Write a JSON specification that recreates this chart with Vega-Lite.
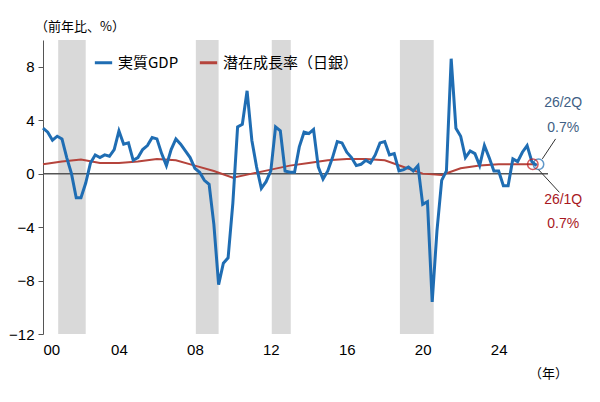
{
  "$schema": "https://vega.github.io/schema/vega-lite/v6.json",
  "width": 505,
  "height": 294,
  "autosize": {"type": "none"},
  "padding": {"left": 43, "top": 40, "right": 52, "bottom": 68},
  "background": "white",
  "config": {
    "font": "Noto Sans CJK JP",
    "view": {"stroke": null},
    "axis": {"labelFont": "Liberation Sans", "labelFontSize": 15, "labelColor": "#000"}
  },
  "datasets": {
    "gdp": [
      {"t":2000.0,"v":3.4},{"t":2000.25,"v":3.1},{"t":2000.5,"v":2.5},{"t":2000.75,"v":2.8},
      {"t":2001.0,"v":2.6},{"t":2001.25,"v":1.2},{"t":2001.5,"v":0.0},{"t":2001.75,"v":-1.8},
      {"t":2002.0,"v":-1.8},{"t":2002.25,"v":-0.7},{"t":2002.5,"v":0.8},{"t":2002.75,"v":1.4},
      {"t":2003.0,"v":1.2},{"t":2003.25,"v":1.4},{"t":2003.5,"v":1.3},{"t":2003.75,"v":1.8},
      {"t":2004.0,"v":3.2},{"t":2004.25,"v":2.2},{"t":2004.5,"v":2.3},{"t":2004.75,"v":1.0},
      {"t":2005.0,"v":1.2},{"t":2005.25,"v":1.8},{"t":2005.5,"v":2.1},{"t":2005.75,"v":2.7},
      {"t":2006.0,"v":2.6},{"t":2006.25,"v":1.5},{"t":2006.5,"v":0.6},{"t":2006.75,"v":1.8},
      {"t":2007.0,"v":2.6},{"t":2007.25,"v":2.2},{"t":2007.5,"v":1.7},{"t":2007.75,"v":1.2},
      {"t":2008.0,"v":0.4},{"t":2008.25,"v":0.1},{"t":2008.5,"v":-0.5},{"t":2008.75,"v":-0.8},
      {"t":2009.0,"v":-3.8},{"t":2009.25,"v":-8.3},{"t":2009.5,"v":-6.7},{"t":2009.75,"v":-6.3},
      {"t":2010.0,"v":-2.2},{"t":2010.25,"v":3.5},{"t":2010.5,"v":3.7},{"t":2010.75,"v":6.2},
      {"t":2011.0,"v":2.5},{"t":2011.25,"v":0.5},{"t":2011.5,"v":-1.1},{"t":2011.75,"v":-0.6},
      {"t":2012.0,"v":0.2},{"t":2012.25,"v":3.5},{"t":2012.5,"v":3.2},{"t":2012.75,"v":0.2},
      {"t":2013.0,"v":0.1},{"t":2013.25,"v":0.1},{"t":2013.5,"v":2.0},{"t":2013.75,"v":3.1},
      {"t":2014.0,"v":3.0},{"t":2014.25,"v":3.3},{"t":2014.5,"v":0.5},{"t":2014.75,"v":-0.4},
      {"t":2015.0,"v":0.2},{"t":2015.25,"v":1.2},{"t":2015.5,"v":2.4},{"t":2015.75,"v":2.3},
      {"t":2016.0,"v":1.6},{"t":2016.25,"v":1.2},{"t":2016.5,"v":0.6},{"t":2016.75,"v":0.7},
      {"t":2017.0,"v":1.0},{"t":2017.25,"v":0.8},{"t":2017.5,"v":1.4},{"t":2017.75,"v":2.3},
      {"t":2018.0,"v":2.4},{"t":2018.25,"v":1.4},{"t":2018.5,"v":1.5},{"t":2018.75,"v":0.2},
      {"t":2019.0,"v":0.3},{"t":2019.25,"v":0.5},{"t":2019.5,"v":0.2},{"t":2019.75,"v":0.6},
      {"t":2020.0,"v":-2.3},{"t":2020.25,"v":-2.1},{"t":2020.5,"v":-9.6},{"t":2020.75,"v":-4.3},
      {"t":2021.0,"v":-0.5},{"t":2021.25,"v":0.2},{"t":2021.5,"v":8.6},{"t":2021.75,"v":3.4},
      {"t":2022.0,"v":2.8},{"t":2022.25,"v":1.2},{"t":2022.5,"v":1.7},{"t":2022.75,"v":1.5},
      {"t":2023.0,"v":0.6},{"t":2023.25,"v":2.1},{"t":2023.5,"v":1.2},{"t":2023.75,"v":0.2},
      {"t":2024.0,"v":0.2},{"t":2024.25,"v":-0.9},{"t":2024.5,"v":-0.9},{"t":2024.75,"v":1.1},
      {"t":2025.0,"v":0.9},{"t":2025.25,"v":1.6},{"t":2025.5,"v":2.1},{"t":2025.75,"v":0.9},
      {"t":2026.0,"v":0.6}
    ],
    "pot": [
      {"t":2000.0,"v":0.7},{"t":2001.0,"v":0.9},{"t":2002.0,"v":1.05},{"t":2003.0,"v":0.8},
      {"t":2004.0,"v":0.8},{"t":2005.0,"v":0.9},{"t":2006.0,"v":1.1},{"t":2007.0,"v":1.0},
      {"t":2008.0,"v":0.6},{"t":2009.0,"v":0.2},{"t":2010.0,"v":-0.3},{"t":2011.0,"v":0.0},
      {"t":2012.0,"v":0.3},{"t":2013.0,"v":0.6},{"t":2014.0,"v":0.8},{"t":2015.0,"v":1.0},
      {"t":2016.0,"v":1.1},{"t":2017.0,"v":1.1},{"t":2018.0,"v":1.0},{"t":2019.0,"v":0.5},
      {"t":2020.0,"v":0.0},{"t":2021.0,"v":-0.1},{"t":2022.0,"v":0.4},{"t":2023.0,"v":0.6},
      {"t":2024.0,"v":0.7},{"t":2025.0,"v":0.7},{"t":2026.0,"v":0.7}
    ],
    "shade": [
      {"a":2000.8,"b":2002.25},{"a":2008.05,"b":2009.25},{"a":2012.05,"b":2013.05},{"a":2018.8,"b":2020.58}
    ]
  },
  "layer": [
    {
      "data": {"name": "shade"},
      "mark": {"type": "rect", "color": "#d9d9d9"},
      "encoding": {
        "x": {"field": "a", "type": "quantitative", "scale": {"domain": [2000, 2026.6], "nice": false}},
        "x2": {"field": "b"},
        "y": {"datum": 10, "type": "quantitative", "scale": {"domain": [-12, 10], "nice": false}},
        "y2": {"datum": -12}
      }
    },
    {
      "data": {"values": [{}]},
      "mark": {"type": "rule", "color": "#555", "strokeWidth": 1.5},
      "encoding": {"y": {"datum": 0, "type": "quantitative"}}
    },
    {
      "data": {"name": "pot"},
      "transform": [{"calculate": "'潜在成長率（日銀）'", "as": "s"}],
      "mark": {"type": "line", "strokeWidth": 2},
      "encoding": {
        "x": {"field": "t", "type": "quantitative"},
        "y": {"field": "v", "type": "quantitative"},
        "color": {"field": "s", "type": "nominal"}
      }
    },
    {
      "data": {"name": "gdp"},
      "transform": [{"calculate": "'実質GDP'", "as": "s"}],
      "mark": {"type": "line", "strokeWidth": 3},
      "encoding": {
        "x": {
          "field": "t", "type": "quantitative", "title": null,
          "axis": {"values": [2000,2002,2004,2006,2008,2010,2012,2014,2016,2018,2020,2022,2024,2026],
                   "labelExpr": "slice('0' + (datum.value - 2000), -2)", "domain": false, "ticks": false, "grid": false, "labelPadding": 8}
        },
        "y": {
          "field": "v", "type": "quantitative", "title": null,
          "axis": {"values": [-12,-10,-8,-6,-4,-2,0,2,4,6,8,10], "gridColor": "#e0e0e0", "domainColor": "#555", "tickColor": "#555", "labelPadding": 4}
        },
        "color": {
          "field": "s", "type": "nominal",
          "scale": {"domain": ["実質GDP", "潜在成長率（日銀）"], "range": ["#1f6db3", "#b5443c"]},
          "legend": {"title": null, "orient": "none", "legendX": 50, "legendY": 12, "direction": "horizontal",
                     "symbolType": "stroke", "symbolStrokeWidth": 3, "symbolSize": 300, "labelFontSize": 15, "labelFont": "Noto Sans CJK JP", "columnPadding": 14}
        }
      }
    },
    {
      "data": {"values": [{"t": 2026.1, "v": 0.7, "c": "b"}, {"t": 2025.8, "v": 0.7, "c": "r"}]},
      "mark": {"type": "point", "shape": "circle", "size": 110, "strokeWidth": 1.5, "filled": false},
      "encoding": {
        "x": {"field": "t", "type": "quantitative"},
        "y": {"field": "v", "type": "quantitative"},
        "stroke": {"field": "c", "type": "nominal", "scale": {"domain": ["b", "r"], "range": ["#1f6db3", "#c0161c"]}, "legend": null}
      }
    },
    {
      "data": {"values": [{"t": 2026.3, "v": 1.1, "t2": 2027.0, "v2": 2.6}, {"t": 2026.1, "v": 0.3, "t2": 2027.2, "v2": -1.4}]},
      "mark": {"type": "rule", "color": "#333", "strokeWidth": 1, "clip": false},
      "encoding": {
        "x": {"field": "t", "type": "quantitative"}, "x2": {"field": "t2"},
        "y": {"field": "v", "type": "quantitative"}, "y2": {"field": "v2"}
      }
    },
    {
      "data": {"values": [
        {"t": 2027.4, "v": 5.3, "s": "26/2Q", "c": "#3f5f85"},
        {"t": 2027.4, "v": 3.4, "s": "0.7%", "c": "#3f5f85"},
        {"t": 2027.4, "v": -2.0, "s": "26/1Q", "c": "#a8181e"},
        {"t": 2027.4, "v": -3.8, "s": "0.7%", "c": "#a8181e"}
      ]},
      "mark": {"type": "text", "fontSize": 14, "font": "Liberation Sans", "clip": false},
      "encoding": {
        "x": {"field": "t", "type": "quantitative"},
        "y": {"field": "v", "type": "quantitative"},
        "text": {"field": "s"},
        "color": {"field": "c", "type": "nominal", "scale": null}
      }
    },
    {
      "data": {"values": [{"t": 2000.0, "v": 10.0, "s": "（前年比、%）"}]},
      "mark": {"type": "text", "fontSize": 13, "align": "left", "dy": -13, "dx": -8, "clip": false},
      "encoding": {
        "x": {"field": "t", "type": "quantitative"},
        "y": {"field": "v", "type": "quantitative"},
        "text": {"field": "s"}
      }
    },
    {
      "data": {"values": [{"t": 2025.6, "v": -12.0, "s": "（年）"}]},
      "mark": {"type": "text", "fontSize": 13, "align": "left", "dy": 40, "clip": false},
      "encoding": {
        "x": {"field": "t", "type": "quantitative"},
        "y": {"field": "v", "type": "quantitative"},
        "text": {"field": "s"}
      }
    }
  ]
}
